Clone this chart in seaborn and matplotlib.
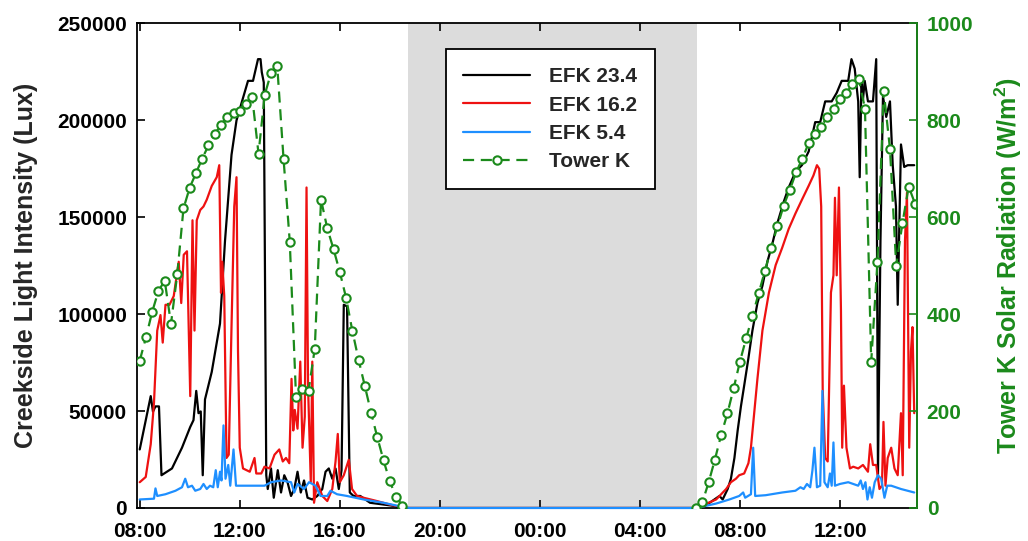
import numpy as np
import pandas as pd
import matplotlib
matplotlib.use("Agg")
import matplotlib.pyplot as plt
import seaborn as sns
from matplotlib.lines import Line2D

# ---------------- data (hours from midnight of day 1) ----------------
# EFK 23.4 (black)
efk234_t1 = [8.0, 8.44, 8.53, 8.63, 8.77, 8.87, 9.29, 9.69, 10.02, 10.15, 10.26, 10.35, 10.44, 10.52, 10.61,
             10.88, 11.21, 11.41, 11.67, 11.87, 12.07, 12.33, 12.53, 12.73, 12.83, 12.88, 12.96, 13.06, 13.12,
             13.25, 13.36, 13.52, 13.65, 13.78, 13.91, 14.05, 14.18, 14.31, 14.44, 14.57, 14.71, 14.9, 15.1,
             15.3, 15.43, 15.56, 15.7, 15.83, 15.96, 16.07, 16.16, 16.29, 16.4, 16.55, 16.82, 17.21, 17.74,
             18.27, 18.67]
efk234_v1 = [30200, 57700, 49700, 52400, 52400, 16900, 20400, 31100, 41800, 45300, 60400, 48900, 49800, 16900,
             56000, 70200, 95100, 137700, 182100, 199900, 208800, 220300, 220300, 231500, 231500, 224800,
             219500, 16900, 9800, 20400, 5300, 19500, 8000, 16900, 13300, 6200, 9800, 18700, 8000, 14200, 5300,
             4400, 6200, 9800, 18700, 20400, 15100, 20400, 9800, 19500, 104800, 104000, 8000, 6200, 6200, 2700,
             1800, 900, 0]
efk234_t2 = [6.26, 6.79, 7.18, 7.31, 7.51, 7.64, 7.78, 7.91, 8.04, 8.17, 8.34, 8.5, 8.7, 8.9, 9.1, 9.29, 9.49,
             9.76, 9.95, 10.22, 10.48, 10.75, 11.01, 11.21, 11.41, 11.67, 11.87, 12.07, 12.33, 12.46, 12.59,
             12.73, 12.79, 12.86, 12.92, 12.99, 13.12, 13.32, 13.45, 13.52, 13.62, 13.72, 13.85, 14.0, 14.11,
             14.24, 14.31, 14.44, 14.57, 14.71, 14.97]
efk234_v2 = [0, 2700, 6200, 4400, 9800, 15100, 25800, 40000, 52400, 63100, 77300, 91500, 105700, 114600, 127100,
             135900, 146600, 158200, 165300, 173300, 176800, 183900, 199000, 199000, 209700, 209700, 214100,
             220300, 220300, 231500, 226600, 209700, 170600, 220300, 210600, 220300, 209700, 209700, 231500,
             16900, 137700, 212300, 201700, 209700, 176800, 155500, 104800, 187500, 175900, 176800, 176800]

# EFK 16.2 (red)
efk162_t1 = [8.0, 8.24, 8.44, 8.57, 8.7, 8.83, 8.92, 9.03, 9.19, 9.36, 9.56, 9.66, 9.76, 9.89, 10.02, 10.11,
             10.19, 10.28, 10.42, 10.55, 10.68, 10.88, 11.08, 11.18, 11.25, 11.3, 11.38, 11.47, 11.56, 11.67,
             11.78, 11.87, 11.93, 12.0, 12.13, 12.4, 12.59, 12.66, 12.86, 12.99, 13.19, 13.39, 13.58, 13.72,
             13.85, 13.98, 14.07, 14.14, 14.2, 14.31, 14.42, 14.51, 14.6, 14.67, 14.73, 14.84, 14.9, 14.97,
             15.1, 15.3, 15.5, 15.7, 15.83, 15.92, 16.0, 16.16, 16.36, 16.49, 16.69, 16.95, 17.48, 18.0, 18.4,
             18.67]
efk162_v1 = [13300, 16000, 32900, 54200, 91500, 99500, 85300, 104800, 104800, 109300, 127000, 105700, 130600,
             132400, 57700, 148400, 91500, 148400, 153700, 155500, 159000, 166100, 170600, 176800, 111000,
             127000, 109300, 25800, 27500, 93300, 155500, 170600, 80900, 31100, 20400, 18700, 25800, 17800,
             17800, 21300, 20400, 27500, 30200, 24000, 25800, 23100, 66600, 40000, 50600, 40900, 75500, 31100,
             47100, 165300, 63100, 13300, 75500, 2700, 13300, 6200, 3600, 9800, 24000, 38200, 13300, 16900,
             24900, 9800, 6200, 5300, 3600, 1800, 500, 0]
efk162_t2 = [6.26, 7.05, 7.45, 7.64, 7.84, 7.97, 8.17, 8.34, 8.44, 8.57, 8.7, 8.9, 9.16, 9.43, 9.69, 9.95,
             10.22, 10.48, 10.75, 10.94, 11.08, 11.17, 11.25, 11.31, 11.41, 11.51, 11.64, 11.74, 11.8, 11.87,
             11.96, 12.04, 12.09, 12.16, 12.26, 12.4, 12.53, 12.73, 12.92, 13.12, 13.21, 13.32, 13.45, 13.58,
             13.68, 13.74, 13.82, 13.91, 14.05, 14.18, 14.31, 14.44, 14.51, 14.6, 14.68, 14.77, 14.84, 14.9,
             14.97]
efk162_v2 = [0, 4400, 9800, 13300, 15100, 16900, 17800, 23100, 31100, 48900, 66600, 91500, 111100, 125300,
             134200, 143900, 151900, 159000, 166200, 171500, 176800, 175000, 155500, 61300, 25800, 24000,
             111100, 120000, 160000, 120000, 165300, 102200, 31100, 63100, 31100, 20400, 21300, 20400, 22200,
             18700, 32900, 22200, 22200, 9800, 11500, 44400, 11500, 25800, 31100, 20400, 16900, 48900, 16900,
             137700, 162600, 31100, 80900, 93300, 48900]

# EFK 5.4 (blue)
efk54_t1 = [8.0, 8.57, 8.63, 8.7, 9.03, 9.43, 9.69, 9.82, 9.93, 10.09, 10.22, 10.42, 10.55, 10.68, 10.81,
            10.94, 11.04, 11.12, 11.21, 11.27, 11.35, 11.43, 11.54, 11.62, 11.75, 11.85, 12.33, 12.99, 13.25,
            13.65, 14.05, 14.18, 14.31, 14.57, 14.77, 15.03, 15.23, 15.5, 15.63, 15.89, 16.29, 16.95, 17.74,
            18.4, 18.8]
efk54_v1 = [4400, 4800, 10100, 6200, 7100, 8900, 10700, 15100, 10700, 11500, 8900, 9800, 12400, 9800, 11500,
            10700, 19500, 10700, 18700, 14200, 42600, 15100, 22200, 11500, 30200, 11500, 11500, 11500, 13300,
            14200, 13300, 8000, 12400, 9800, 13300, 11500, 6200, 6200, 8900, 7100, 6200, 4400, 2700, 900, 0]
efk54_t2 = [6.26, 7.05, 7.58, 7.97, 8.13, 8.21, 8.44, 8.53, 8.61, 9.03, 9.69, 10.22, 10.42, 10.55, 10.68,
            10.81, 10.9, 10.98, 11.08, 11.21, 11.3, 11.38, 11.51, 11.6, 11.67, 11.74, 11.8, 12.0, 12.33, 12.73,
            12.83, 12.92, 13.02, 13.1, 13.19, 13.28, 13.39, 13.52, 13.65, 13.78, 13.89, 14.05, 14.44, 14.97]
efk54_v2 = [0, 2300, 4400, 6200, 8000, 5300, 7100, 31100, 6200, 6600, 8000, 8900, 10700, 9800, 12400, 10700,
            19500, 31100, 10700, 11500, 60400, 13300, 10700, 17800, 11500, 33800, 11500, 12400, 13300, 11500,
            14200, 9800, 13300, 4400, 10700, 5300, 13300, 16900, 15100, 5300, 11500, 11500, 9800, 8000]

# Tower K solar radiation (W/m2), 15-min readings
towerk_v1 = [304, 352, 405, 448, 469, 380, 482, 618, 661, 691, 721, 748, 771, 791, 807, 815, 819, 834, 847,
             731, 853, 897, 911, 721, 549, 229, 245, 242, 329, 636, 577, 534, 487, 434, 366, 306, 252, 197,
             146, 98, 55, 23, 5]
towerk_v2 = [0, 12, 53, 100, 151, 195, 247, 302, 350, 396, 443, 489, 537, 581, 624, 657, 693, 721, 753, 771,
             787, 807, 824, 844, 856, 874, 886, 824, 302, 508, 860, 741, 500, 588, 663, 628]
towerk_start1 = 8.0
towerk_start2 = 6.25

tick_hours = [8, 12, 16, 20, 24, 28, 32, 36]
tick_labels = ["08:00", "12:00", "16:00", "20:00", "00:00", "04:00", "08:00", "12:00"]
night_start, night_end = 18.72, 30.3

# ---------------- build tables ----------------
def series(t1, v1, t2, v2):
    t = list(t1) + [24.0 + h for h in t2]
    v = list(v1) + list(v2)
    return pd.DataFrame({"hour": t, "value": v})

df234 = series(efk234_t1, efk234_v1, efk234_t2, efk234_v2)
df162 = series(efk162_t1, efk162_v1, efk162_t2, efk162_v2)
df54 = series(efk54_t1, efk54_v1, efk54_t2, efk54_v2)
tk1 = pd.DataFrame({"hour": towerk_start1 + 0.25 * np.arange(len(towerk_v1)), "value": towerk_v1})
tk2 = pd.DataFrame({"hour": 24 + towerk_start2 + 0.25 * np.arange(len(towerk_v2)), "value": towerk_v2})

# ---------------- plot ----------------
sns.set_theme(style="white")
plt.rcParams["font.family"] = ["Liberation Sans", "DejaVu Sans"]
plt.rcParams["font.weight"] = "bold"
plt.rcParams["mathtext.fontset"] = "custom"
plt.rcParams["mathtext.bf"] = "Liberation Sans:bold"
plt.rcParams["mathtext.rm"] = "Liberation Sans:bold"

GREEN = "#1b8a1b"
RED = "#ee1111"
BLUE = "#1e8fff"
LW = 1.6
fig = plt.figure(figsize=(10.28, 5.41), dpi=100)
ax = fig.add_axes([0.133, 0.061, 0.759, 0.896])

ax.axvspan(night_start, night_end, color="#dcdcdc", zorder=0, lw=0)

sns.lineplot(data=df234, x="hour", y="value", ax=ax, color="black", lw=LW, sort=False, estimator=None)
sns.lineplot(data=df162, x="hour", y="value", ax=ax, color=RED, lw=LW, sort=False, estimator=None)
sns.lineplot(data=df54, x="hour", y="value", ax=ax, color=BLUE, lw=LW, sort=False, estimator=None)
for ln in ax.get_lines():
    if ln.get_color() == BLUE:
        ln.set_clip_on(False)
        ln.set_zorder(3)

ax.set_xlim(7.88, 39.08)
ax.set_ylim(0, 250000)
ax.set_xticks(tick_hours)
ax.set_xticklabels(tick_labels)
ax.set_yticks(np.arange(0, 250001, 50000))
ax.set_yticklabels([str(v) for v in range(0, 250001, 50000)])
ax.tick_params(axis="both", direction="in", length=6, width=1.2, labelsize=15, colors="black",
               top=True, bottom=True, left=True, right=False)
ax.tick_params(axis="x", pad=10)
ax.tick_params(axis="y", pad=7)
ax.set_xlabel("")
ax.set_ylabel("Creekside Light Intensity (Lux)", fontsize=18, fontweight="bold", labelpad=14)
for s in ax.spines.values():
    s.set_color("black")
    s.set_linewidth(1.3)

ax2 = ax.twinx()
for tk in (tk1, tk2):
    sns.lineplot(data=tk, x="hour", y="value", ax=ax2, color=GREEN, lw=LW, marker="o", markersize=6,
                 markerfacecolor="white", markeredgecolor=GREEN, markeredgewidth=1.5, dashes=False,
                 linestyle=(0, (5, 3)), estimator=None)
ax2.set_ylim(0, 1000)
ax2.set_yticks(np.arange(0, 1001, 200))
ax2.tick_params(axis="y", direction="in", length=6, width=1.2, labelsize=15, colors=GREEN, pad=7)
ax2.set_ylabel("Tower K Solar Radiation (W/m$^{2}$)", fontsize=18, fontweight="bold", color=GREEN,
               labelpad=14)
for lbl in ax2.get_yticklabels():
    lbl.set_fontweight("bold")
ax2.spines["right"].set_color(GREEN)
ax2.spines["right"].set_linewidth(1.3)
ax2.spines["left"].set_visible(False)
ax2.spines["top"].set_visible(False)
ax2.spines["bottom"].set_visible(False)
ax2.set_xlim(7.88, 39.08)

for lbl in ax.get_xticklabels() + ax.get_yticklabels():
    lbl.set_fontweight("bold")

handles = [
    Line2D([], [], color="black", lw=LW),
    Line2D([], [], color=RED, lw=LW),
    Line2D([], [], color=BLUE, lw=LW),
    Line2D([], [], color=GREEN, lw=LW, linestyle=(0, (5, 3)), marker="o", markersize=6,
           markerfacecolor="white", markeredgecolor=GREEN, markeredgewidth=1.5),
]
labels = ["EFK 23.4", "EFK 16.2", "EFK 5.4", "Tower K"]
leg = ax2.legend(handles, labels, loc="upper center", bbox_to_anchor=(0.53, 0.946), frameon=True,
                 fancybox=False, edgecolor="black", framealpha=1, prop={"size": 15, "weight": "bold"},
                 handlelength=3.2, borderpad=0.85, labelspacing=0.45, handletextpad=0.9, borderaxespad=0)
leg.get_frame().set_linewidth(1.3)

fig.savefig("out.png", dpi=100)
